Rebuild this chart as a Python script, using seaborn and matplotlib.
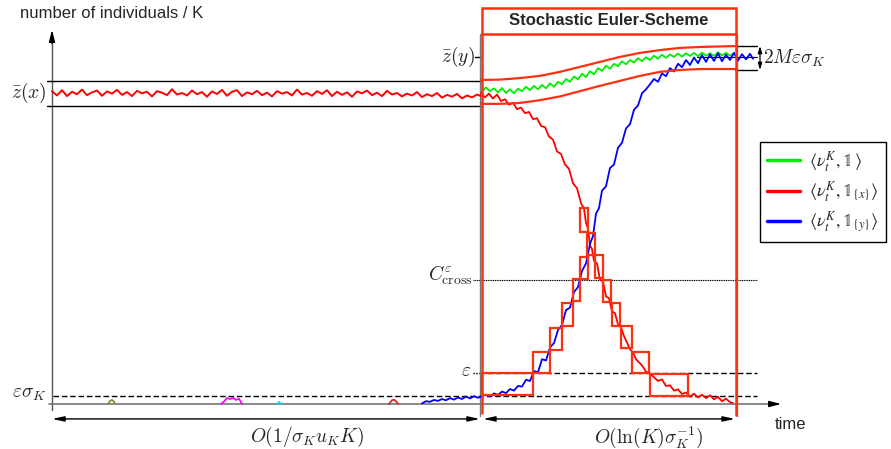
import numpy as np
import matplotlib
matplotlib.use("Agg")
import matplotlib.pyplot as plt
from matplotlib.patches import Rectangle
from matplotlib.font_manager import FontProperties
import seaborn as sns

sns.set_style("white")
plt.rcParams["font.family"] = ["Liberation Sans", "DejaVu Sans"]
plt.rcParams["mathtext.fontset"] = "cm"

# ---------------- data (time, population / K scaled so that z(x) = 100) ----------------
Z_X = 100.0
Z_Y = 111.6
EPS = 10.0
EPS_SIGMA = 2.6
C_CROSS = 40.0
BAND_X = (95.8, 103.9)
BAND_Y = (107.4, 115.1)
T_EULER_START = 42.95
T_EULER_END = 68.37

# resident trace before the invasion
red_left_y = [100.6, 99.2, 100.9, 99.0, 100.4, 99.6, 101.1, 99.3, 100.2, 100.8, 99.1, 100.5,
              99.8, 101.0, 99.4, 100.3, 99.0, 100.7, 99.9, 100.4, 98.9, 100.6, 100.1, 99.3,
              101.2, 99.5, 100.0, 99.2, 100.8, 99.6, 100.3, 98.8, 100.5, 99.7, 101.0, 99.1,
              100.4, 100.9, 99.0, 100.2, 99.6, 100.7, 99.3, 100.1, 98.9, 100.6, 99.8, 100.3,
              99.2, 101.1, 99.5, 100.0, 99.1, 100.6, 99.7, 100.9, 99.0, 100.4, 99.4, 100.2,
              98.8, 100.5, 99.9, 100.8, 99.3, 100.1, 99.0, 100.7, 99.5, 100.0, 98.9, 99.8,
              99.2, 100.3, 98.7, 99.6, 99.0, 100.0, 98.5, 99.4, 98.8, 99.7, 98.3, 99.2,
              98.6, 99.5, 98.9]
red_left_t = np.linspace(0.0, 43.0, len(red_left_y))

# resident trace during the Euler phase
red_t = [42.9, 43.3, 43.7, 44.1, 44.5, 44.9, 45.3, 45.7, 46.1, 46.5, 46.9, 47.3, 47.7, 48.1,
         48.5, 48.9, 49.3, 49.7, 50.1, 50.5, 50.9, 51.3, 51.7, 52.1, 52.5, 52.9, 53.2, 53.4,
         53.6, 53.8, 54.0, 54.2, 54.5, 54.8, 55.1, 55.4, 55.7, 56.0, 56.3, 56.6, 56.9, 57.2,
         57.5, 57.8, 58.1, 58.4, 58.7, 59.0, 59.4, 59.8, 60.2, 60.6, 61.0, 61.4, 61.8, 62.2,
         62.6, 63.0, 63.4, 63.8, 64.2, 64.6, 65.0, 65.4, 65.8, 66.2, 66.6, 67.0, 67.4, 67.8, 68.1]
red_y = [100.0, 98.6, 99.8, 98.2, 99.5, 97.4, 98.0, 96.2, 96.9, 94.8, 95.3, 93.5, 93.9, 91.6,
         91.9, 89.4, 89.0, 86.0, 85.0, 81.2, 80.4, 77.0, 75.6, 71.0, 69.4, 64.6, 62.8, 58.2,
         56.4, 51.0, 49.8, 46.0, 45.2, 40.0, 39.4, 34.6, 34.0, 29.8, 29.2, 25.6, 24.6, 21.8,
         19.8, 17.6, 16.6, 14.4, 13.4, 12.4, 10.4, 9.8, 8.6, 7.4, 7.9, 5.8, 6.0, 4.3,
         4.7, 3.2, 3.7, 2.4, 3.3, 2.1, 3.0, 1.9, 2.8, 1.5, 2.3, 0.9, 1.7, 0.6, 0.3]

# invading mutant y
blue_t = [37.0, 37.4, 37.8, 38.2, 38.6, 39.0, 39.4, 39.8, 40.2, 40.6, 41.0, 41.4, 41.8, 42.2,
          42.6, 43.0, 43.4, 43.8, 44.2, 44.6, 45.0, 45.4, 45.8, 46.2, 46.6, 47.0, 47.4, 47.8,
          48.2, 48.6, 49.0, 49.4, 49.8, 50.2, 50.6, 51.0, 51.4, 51.8, 52.2, 52.6, 53.0, 53.4,
          53.8, 54.1, 54.4, 54.7, 55.0, 55.4, 55.8, 56.2, 56.6, 57.0, 57.4, 57.8, 58.2, 58.6,
          59.0, 59.4, 59.8, 60.2, 60.6, 61.0, 61.4, 61.8, 62.2, 62.6, 63.0, 63.4, 63.8, 64.2,
          64.6, 65.0, 65.4, 65.8, 66.2, 66.6, 67.0, 67.4, 67.8, 68.2, 68.6, 69.0, 69.4, 69.8, 70.1]
blue_y = [0.2, 0.9, 0.7, 1.3, 1.0, 1.6, 1.2, 1.9, 1.4, 2.1, 1.6, 2.4, 1.8, 2.5,
          2.0, 2.6, 3.0, 2.4, 3.4, 2.9, 4.0, 3.5, 4.8, 4.3, 5.8, 5.6, 7.8, 7.4,
          10.6, 10.2, 14.4, 14.0, 18.2, 19.6, 23.8, 25.4, 30.2, 31.0, 36.0, 37.6, 42.8, 45.2,
          51.5, 54.0, 61.2, 63.0, 68.6, 70.0, 75.9, 77.0, 82.4, 84.0, 88.6, 90.0, 94.6, 96.0,
          99.9, 101.2, 102.8, 104.5, 103.6, 106.3, 105.4, 108.0, 106.9, 109.4, 108.3, 110.6, 109.0, 111.4,
          109.6, 112.2, 110.0, 112.4, 110.3, 112.8, 110.2, 112.3, 110.6, 112.9, 110.4, 112.5, 110.8, 112.6, 111.0]

# total population
green_t = [43.0, 43.4, 43.8, 44.2, 44.6, 45.0, 45.4, 45.8, 46.2, 46.6, 47.0, 47.4, 47.8, 48.2,
           48.6, 49.0, 49.4, 49.8, 50.2, 50.6, 51.0, 51.4, 51.8, 52.2, 52.6, 53.0, 53.4, 53.8,
           54.2, 54.6, 55.0, 55.4, 55.8, 56.2, 56.6, 57.0, 57.4, 57.8, 58.2, 58.6, 59.0, 59.4,
           59.8, 60.2, 60.6, 61.0, 61.4, 61.8, 62.2, 62.6, 63.0, 63.4, 63.8, 64.2, 64.6, 65.0,
           65.4, 65.8, 66.2, 66.6, 67.0, 67.4, 67.8, 68.2]
green_y = [100.4, 101.8, 100.6, 101.5, 100.2, 101.6, 100.0, 101.2, 99.9, 101.4, 100.6, 102.0, 100.9, 102.3,
           101.2, 102.6, 101.5, 103.1, 102.0, 103.6, 102.8, 104.5, 103.6, 105.3, 104.4, 106.2, 105.1, 107.0,
           106.0, 108.0, 107.1, 108.8, 107.8, 109.4, 108.6, 110.2, 109.2, 110.6, 109.8, 111.2, 110.2, 111.5,
           110.6, 112.0, 111.0, 112.3, 111.3, 112.4, 111.6, 112.7, 111.7, 112.8, 111.9, 112.9, 111.8, 113.0,
           112.0, 112.8, 111.9, 113.1, 112.1, 112.9, 112.0, 112.8]

# short-lived mutant excursions near zero
olive_t, olive_y = [5.6, 5.8, 6.0, 6.2, 6.3], [0.0, 1.0, 1.3, 0.8, 0.0]
magenta_t = [16.9, 17.2, 17.5, 17.8, 18.1, 18.4, 18.7, 19.0]
magenta_y = [0.0, 0.8, 1.9, 1.6, 2.0, 1.3, 1.7, 0.0]
cyan_t, cyan_y = [22.5, 22.7, 22.9], [0.0, 0.6, 0.0]
darkred_t, darkred_y = [33.7, 34.0, 34.2, 34.4, 34.6], [0.0, 1.2, 1.4, 0.9, 0.0]

# tube around the deterministic limit
tube_t = [42.9, 44.8, 46.8, 48.8, 50.8, 52.8, 54.8, 56.8, 58.8, 60.8, 62.8, 64.8, 68.5]
tube_upper = [104.2, 104.3, 104.8, 105.5, 106.8, 108.4, 110.0, 111.6, 112.9, 113.8, 114.5, 114.8, 115.1]
tube_lower = [96.5, 96.5, 96.8, 97.7, 98.9, 100.6, 102.3, 103.9, 105.5, 106.8, 107.4, 107.7, 107.7]

# Euler steps: (t_start, t_end, y_low, y_high)
steps_mutant = [(43.0, 48.1, 2.9, 10.0), (48.1, 49.8, 10.0, 16.7), (49.8, 51.0, 17.4, 24.4),
                (51.0, 52.1, 25.1, 32.5), (52.1, 52.8, 33.1, 40.2), (52.8, 53.6, 40.2, 47.3)]
steps_resident = [(52.8, 53.6, 55.3, 63.0), (53.5, 54.3, 47.9, 55.0), (54.3, 55.1, 40.5, 47.9),
                  (55.1, 55.9, 32.8, 39.9), (56.0, 56.8, 25.1, 32.5), (56.9, 58.0, 18.0, 25.1),
                  (58.0, 59.7, 10.0, 16.7), (59.8, 63.6, 2.6, 9.6)]

legend_labels = [r"$\langle\nu_t^K,\mathbb{1}\,\rangle$",
                 r"$\langle\nu_t^K,\mathbb{1}_{\{x\}}\rangle$",
                 r"$\langle\nu_t^K,\mathbb{1}_{\{y\}}\rangle$"]

# ---------------- figure ----------------
EULER_RED = "#ff3010"
fig = plt.figure(figsize=(8.91, 4.49), dpi=100)
ax = fig.add_axes([0, 0, 1, 1])
ax.set_xlim(-5.2, 83.9)
ax.set_ylim(-14.47, 129.9)
ax.axis("off")

# axes of the sketch
ax.plot([0, 0], [-2.0, 116], color="#555555", lw=1.0)
ax.annotate("", xy=(0, 121.2), xytext=(0, 115),
            arrowprops=dict(arrowstyle="-|>,head_length=0.7,head_width=0.18", color="black", lw=1))
ax.plot([-0.3, 72.0], [0, 0], color="#777777", lw=1.2)
ax.annotate("", xy=(73.2, 0), xytext=(71.5, 0),
            arrowprops=dict(arrowstyle="-|>,head_length=0.7,head_width=0.18", color="black", lw=1))

# reference levels
for yv in BAND_X:
    ax.plot([-0.5, T_EULER_START], [yv, yv], color="black", lw=1.0)
for yv in BAND_Y:
    ax.plot([68.3, 70.5], [yv, yv], color="black", lw=1.0)
ax.plot([42.3, 42.9], [Z_Y, Z_Y], color="black", lw=1.0)
ax.plot([64.5, 70.5], [Z_Y, Z_Y], color="black", lw=0.8)
ax.plot([0.1, 70.5], [EPS_SIGMA, EPS_SIGMA], color="black", lw=1.0, ls=(0, (4, 2)))
ax.plot([42.1, 42.7], [EPS, EPS], color="black", lw=1.0, ls=(0, (1, 1)))
ax.plot([42.7, 70.5], [EPS, EPS], color="black", lw=1.0, ls=(0, (4, 2)))
ax.plot([42.1, 70.5], [C_CROSS, C_CROSS], color="black", lw=0.8, ls=(0, (1, 0.6)))

# gray phase separators
ax.plot([42.75, 42.75], [119.0, -3.7], color="#777777", lw=1.0)
ax.plot([68.47, 68.47], [119.0, -3.7], color="#777777", lw=1.0)

# stochastic traces
sns.lineplot(x=red_left_t, y=red_left_y, color="#ff0000", lw=1.4, ax=ax, estimator=None, sort=False)
for tt, yy, cc in [(olive_t, olive_y, "#8a8a40"), (magenta_t, magenta_y, "#ff00ff"),
                   (cyan_t, cyan_y, "#00e5ee"), (darkred_t, darkred_y, "#cc2a2a")]:
    sns.lineplot(x=tt, y=yy, color=cc, lw=1.3, ax=ax, estimator=None, sort=False)
ln_g = sns.lineplot(x=green_t, y=green_y, color="#00ee00", lw=1.3, ax=ax, estimator=None, sort=False).lines[-1]
ln_r = sns.lineplot(x=red_t, y=red_y, color="#ff0000", lw=1.3, ax=ax, estimator=None, sort=False).lines[-1]
ln_b = sns.lineplot(x=blue_t, y=blue_y, color="#0000ff", lw=1.3, ax=ax, estimator=None, sort=False).lines[-1]

# tube and Euler steps
ax.plot(tube_t, tube_upper, color=EULER_RED, lw=1.6)
ax.plot(tube_t, tube_lower, color=EULER_RED, lw=1.6)
for t0, t1, y0, y1 in steps_mutant + steps_resident:
    ax.add_patch(Rectangle((t0, y0), t1 - t0, y1 - y0, fill=False, ec=EULER_RED, lw=1.6, zorder=4))

# Euler-scheme frame
ax.add_patch(Rectangle((T_EULER_START, 119.0), T_EULER_END - T_EULER_START, 8.3,
                       fc="white", ec=EULER_RED, lw=1.8, zorder=5))
ax.plot([T_EULER_START, T_EULER_START], [119.0, -2.9], color=EULER_RED, lw=1.8, zorder=5)
ax.plot([T_EULER_END, T_EULER_END], [119.0, -3.5], color=EULER_RED, lw=1.8, zorder=5)
ax.text((T_EULER_START + T_EULER_END) / 2, 123.2, "Stochastic Euler-Scheme", fontsize=12,
        fontweight="bold", ha="center", va="center", zorder=6)

# 2M eps sigma arrow
ax.annotate("", xy=(70.8, BAND_Y[1]), xytext=(70.8, BAND_Y[0]),
            arrowprops=dict(arrowstyle="<|-|>,head_length=0.4,head_width=0.12", color="black", lw=0.9,
                            shrinkA=0, shrinkB=0))
ax.text(71.1, 111.1, r"$2M\varepsilon\sigma_K$", fontsize=14, ha="left", va="center")

# time-scale arrows
arrow_kw = dict(arrowstyle="<|-|>,head_length=0.7,head_width=0.15", color="black", lw=1.0,
                shrinkA=0, shrinkB=0)
ax.annotate("", xy=(0.0, -4.8), xytext=(42.8, -4.8), arrowprops=arrow_kw)
ax.annotate("", xy=(43.1, -4.8), xytext=(68.3, -4.8), arrowprops=arrow_kw)
ax.text(25.5, -10.7, r"$O(1/\sigma_K u_K K)$", fontsize=14, ha="center", va="center")
ax.text(59.7, -10.7, r"$O(\ln(K)\sigma_K^{-1})$", fontsize=14, ha="center", va="center")

# labels
ax.text(-3.2, 125.4, "number of individuals / K", fontsize=12, ha="left", va="center")
ax.text(72.3, -6.6, "time", fontsize=12, ha="left", va="center")
ax.text(-0.6, Z_X, r"$\bar{z}(x)$", fontsize=14, ha="right", va="center")
ax.text(42.3, Z_Y, r"$\bar{z}(y)$", fontsize=14, ha="right", va="center")
ax.text(-0.6, EPS_SIGMA + 0.6, r"$\varepsilon\sigma_K$", fontsize=14, ha="right", va="center")
ax.text(41.9, EPS + 0.4, r"$\varepsilon$", fontsize=14, ha="right", va="center")
ax.text(42.0, C_CROSS + 1.4, r"$C_{\mathrm{cross}}^{\varepsilon}$", fontsize=14, ha="right", va="center")

# legend
leg = ax.legend([ln_g, ln_r, ln_b], legend_labels, loc="upper left",
                bbox_to_anchor=(760 / 891, 1 - 142 / 449), bbox_transform=fig.transFigure,
                prop=FontProperties(size=13, math_fontfamily="stix"),
                frameon=True, fancybox=False, edgecolor="black", framealpha=1,
                handlelength=1.8, handletextpad=0.5, borderaxespad=0, labelspacing=0.3)
leg.get_frame().set_linewidth(1.0)
for h in leg.get_lines():
    h.set_linewidth(2.5)

fig.savefig("out.png", dpi=100)
